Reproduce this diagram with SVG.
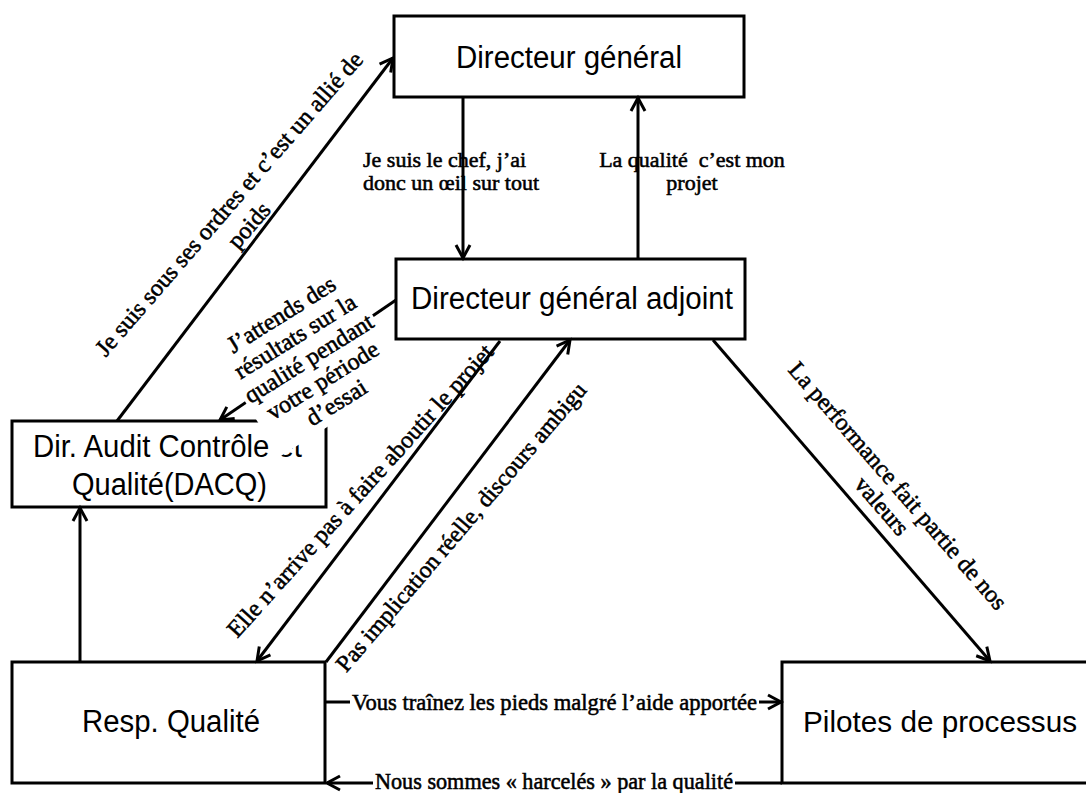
<svg xmlns="http://www.w3.org/2000/svg" width="1086" height="793" viewBox="0 0 1086 793">
<style>
.box{fill:#fff;stroke:#000;stroke-width:3}
.nt{font-family:"Liberation Sans",Arial,sans-serif;font-size:31px;fill:#000}
.lb{font-family:"Liberation Serif","Times New Roman",serif;fill:#000;stroke:#000;stroke-width:0.55px}
.cn{stroke:#000;stroke-width:3;fill:none;marker-end:url(#ah)}
.bg{fill:#fff;stroke:none}
</style>
<defs>
<marker id="ah" markerUnits="userSpaceOnUse" markerWidth="30" markerHeight="30" viewBox="-15 -15 30 30" refX="0" refY="0" orient="auto"><path d="M-13,-7 L0,0 L-13,7" fill="none" stroke="#000" stroke-width="3"/></marker>
</defs>
<rect width="1086" height="793" fill="#fff"/>
<g id="nodes">
<g id="dg"><rect class="box" x="394" y="16" width="350" height="81"/><text class="nt" x="456" y="68" textLength="226" lengthAdjust="spacingAndGlyphs">Directeur général</text></g>
<g id="dga"><rect class="box" x="396" y="259" width="349" height="80"/><text class="nt" x="411" y="309" textLength="322" lengthAdjust="spacingAndGlyphs">Directeur général adjoint</text></g>
<g id="dacq"><rect class="box" x="12" y="421" width="314" height="86"/><text class="nt" x="33" y="457" textLength="269" lengthAdjust="spacingAndGlyphs">Dir. Audit Contrôle et</text><text class="nt" x="72" y="495" textLength="195" lengthAdjust="spacingAndGlyphs">Qualité(DACQ)</text></g>
<g id="resp"><rect class="box" x="12" y="662" width="313" height="121"/><text class="nt" x="82" y="732" textLength="178" lengthAdjust="spacingAndGlyphs">Resp. Qualité</text></g>
<g id="pilotes"><rect class="box" x="782" y="662" width="320" height="121"/><text class="nt" x="803" y="732" style="font-size:30px" textLength="274" lengthAdjust="spacingAndGlyphs">Pilotes de processus</text></g>
</g>
<g id="labels-under" class="lb" font-size="22">
<text x="363" y="167">Je suis le chef, j’ai</text>
<text x="363" y="190">donc un œil sur tout</text>
<text x="692" y="167" text-anchor="middle" xml:space="preserve">La qualité  c’est mon</text>
<text x="692" y="190" text-anchor="middle">projet</text>
</g>
<g id="connectors">
<line class="cn" x1="117" y1="421" x2="393" y2="58"/>
<line class="cn" x1="463" y1="97" x2="463" y2="258"/>
<line class="cn" x1="638" y1="259" x2="638" y2="98"/>
<line class="cn" x1="396" y1="300" x2="220" y2="420"/>
<line class="cn" x1="500" y1="341" x2="257" y2="661"/>
<line class="cn" x1="326" y1="662" x2="570" y2="340"/>
<line class="cn" x1="713" y1="340" x2="990" y2="661"/>
<line class="cn" x1="80" y1="662" x2="80" y2="508"/>
<line class="cn" x1="326" y1="702" x2="781" y2="702"/>
<line class="cn" x1="782" y1="783" x2="327" y2="783"/>
</g>
<g id="labels" class="lb">
<g transform="translate(234.9,209.1) rotate(-49)" font-size="24" text-anchor="middle">
<text x="0" y="0">Je suis sous ses ordres et c’est un allié de</text>
<text x="-3" y="29">poids</text>
</g>
<g transform="translate(285.5,321) rotate(-32)" font-size="24" text-anchor="middle">
<rect class="bg" x="-77" y="-21" width="154" height="133"/>
<text x="0" y="0">J’attends des</text>
<text x="0" y="26">résultats sur la</text>
<text x="0" y="52">qualité pendant</text>
<text x="0" y="78">votre période</text>
<text x="0" y="104">d’essai</text>
</g>
<g transform="translate(366,496) rotate(-48)" font-size="24" text-anchor="middle">
<text x="0" y="0">Elle n’arrive pas à faire aboutir le projet</text>
</g>
<g transform="translate(467,532) rotate(-49.5)" font-size="23.6" text-anchor="middle">
<text x="0" y="0">Pas implication réelle, discours ambigu</text>
</g>
<g transform="translate(892,491) rotate(49)" font-size="24" text-anchor="middle">
<text x="0" y="0">La performance fait partie de nos</text>
<text x="4.7" y="25.4">valeurs</text>
</g>
<rect class="bg" x="350" y="690" width="409" height="25"/>
<text x="352" y="710" font-size="23" textLength="405" lengthAdjust="spacingAndGlyphs">Vous traînez les pieds malgré l’aide apportée</text>
<rect class="bg" x="373" y="771" width="362" height="22"/>
<text x="375" y="789" font-size="23" textLength="358" lengthAdjust="spacingAndGlyphs">Nous sommes « harcelés » par la qualité</text>
</g>
</svg>
